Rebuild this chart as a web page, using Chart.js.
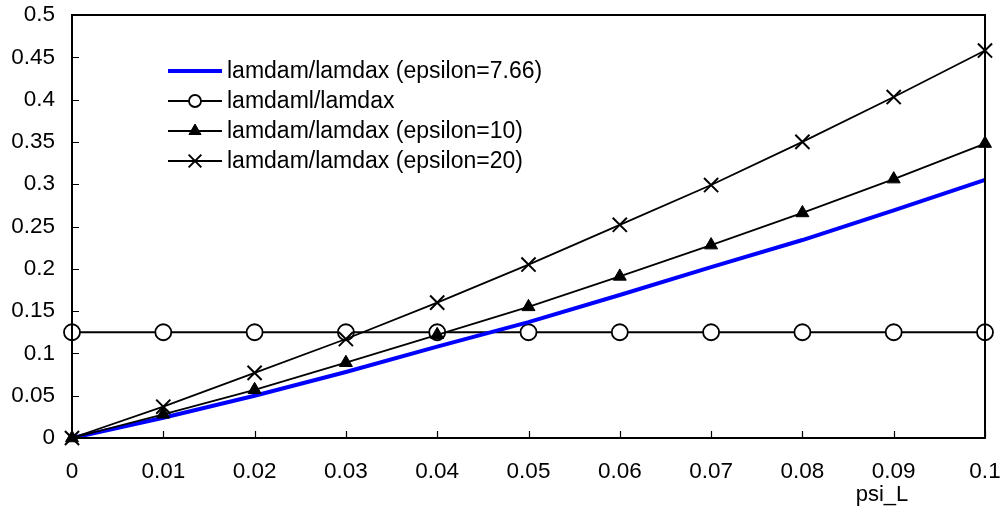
<!DOCTYPE html>
<html>
<head>
<meta charset="utf-8">
<script src="https://cdn.jsdelivr.net/npm/chart.js@4.4.1/dist/chart.umd.min.js"></script>
<style>
html,body{margin:0;padding:0;background:#fff;}
#wrap{width:1004px;height:518px;}
</style>
</head>
<body>
<div id="wrap"><canvas id="c" width="1004" height="518"></canvas></div>
<script>
const psi = [0, 0.01, 0.02, 0.03, 0.04, 0.05, 0.06, 0.07, 0.08, 0.09, 0.1];
const eps766 = [0, 0.024, 0.05, 0.078, 0.108, 0.137, 0.169, 0.202, 0.234, 0.269, 0.305];
const lamdaml = [0.125, 0.125, 0.125, 0.125, 0.125, 0.125, 0.125, 0.125, 0.125, 0.125, 0.125];
const eps10 = [0, 0.028, 0.057, 0.089, 0.122, 0.155, 0.191, 0.228, 0.266, 0.306, 0.348];
const eps20 = [0, 0.037, 0.077, 0.117, 0.160, 0.205, 0.252, 0.299, 0.350, 0.403, 0.458];
const xTickLabels = ["0", "0.01", "0.02", "0.03", "0.04", "0.05", "0.06", "0.07", "0.08", "0.09", "0.1"];
const yTickLabels = ["0", "0.05", "0.1", "0.15", "0.2", "0.25", "0.3", "0.35", "0.4", "0.45", "0.5"];
const seriesNames = ["lamdam/lamdax (epsilon=7.66)", "lamdaml/lamdax", "lamdam/lamdax (epsilon=10)", "lamdam/lamdax (epsilon=20)"];
const xTitle = "psi_L";

const FONT = "'Liberation Sans', Arial, sans-serif";
const pts = arr => psi.map((x, i) => ({x: x, y: arr[i]}));

const datasets = [
  {label: seriesNames[0], data: pts(eps766), borderColor: '#0000FF', borderWidth: 4, pointRadius: 0, order: 2, clip: false,
   legendPoint: null},
  {label: seriesNames[1], data: pts(lamdaml), borderColor: '#000', borderWidth: 1.8, pointStyle: 'circle', pointRadius: 8,
   pointBackgroundColor: '#fff', pointBorderColor: '#000', pointBorderWidth: 1.8, order: 3, clip: false,
   legendPoint: {pointStyle: 'circle', radius: 6, fill: '#fff'}},
  {label: seriesNames[2], data: pts(eps10), borderColor: '#000', borderWidth: 1.8, pointStyle: 'triangle', pointRadius: 7.5,
   pointBackgroundColor: '#000', pointBorderColor: '#000', pointBorderWidth: 1, order: 1, clip: false,
   legendPoint: {pointStyle: 'triangle', radius: 7, fill: '#000'}},
  {label: seriesNames[3], data: pts(eps20), borderColor: '#000', borderWidth: 1.8, pointStyle: 'crossRot', pointRadius: 10,
   pointBackgroundColor: '#000', pointBorderColor: '#000', pointBorderWidth: 2, order: 0, clip: false,
   legendPoint: {pointStyle: 'crossRot', radius: 9, fill: '#000'}}
];
datasets.forEach(d => { d.tension = 0; d.fill = false; d.pointHoverRadius = d.pointRadius; });

const framePlugin = {
  id: 'frame',
  afterDatasetsDraw(chart) {
    const ctx = chart.ctx, a = chart.chartArea;
    const xs = chart.scales.x, ys = chart.scales.y;
    ctx.save();
    ctx.strokeStyle = '#000';
    ctx.lineWidth = 1.2;
    ctx.beginPath();
    psi.forEach(v => { const px = Math.round(xs.getPixelForValue(v)) + 0.5; ctx.moveTo(px, a.bottom); ctx.lineTo(px, a.bottom - 7); });
    yTickLabels.forEach((t, i) => { const py = Math.round(ys.getPixelForValue(i * 0.05)) + 0.5; ctx.moveTo(a.left, py); ctx.lineTo(a.left + 7, py); });
    ctx.stroke();
    ctx.lineWidth = 2;
    ctx.strokeRect(a.left, a.top, a.right - a.left, a.bottom - a.top);
    ctx.restore();
  },
  afterDraw(chart) {
    const ctx = chart.ctx;
    ctx.save();
    ctx.fillStyle = '#000';
    ctx.font = '22px ' + FONT;
    ctx.textAlign = 'center';
    ctx.textBaseline = 'middle';
    ctx.fillText(xTitle, 882, 495);
    const rows = [71, 101, 131, 161];
    chart.data.datasets.forEach((d, i) => {
      const y = rows[i];
      ctx.strokeStyle = d.borderColor;
      ctx.lineWidth = d.borderWidth;
      ctx.beginPath();
      ctx.moveTo(168, y); ctx.lineTo(222, y);
      ctx.stroke();
      if (d.legendPoint) {
        ctx.fillStyle = d.legendPoint.fill;
        ctx.strokeStyle = '#000';
        ctx.lineWidth = d.pointBorderWidth;
        Chart.helpers.drawPoint(ctx, {pointStyle: d.legendPoint.pointStyle, radius: d.legendPoint.radius, rotation: 0, borderWidth: d.pointBorderWidth}, 195, y);
      }
      ctx.fillStyle = '#000';
      ctx.font = '23px ' + FONT;
      ctx.textAlign = 'left';
      ctx.textBaseline = 'middle';
      ctx.fillText(d.label, 227, y + 1);
    });
    ctx.restore();
  }
};

new Chart(document.getElementById('c'), {
  type: 'line',
  data: {datasets: datasets},
  options: {
    responsive: false,
    animation: false,
    events: [],
    layout: {padding: {top: 15, right: 19, left: 0, bottom: 0}},
    plugins: {legend: {display: false}, tooltip: {enabled: false}},
    scales: {
      x: {
        type: 'linear', min: 0, max: 0.1,
        afterBuildTicks(s) { s.ticks = psi.map(v => ({value: v})); },
        afterFit(s) { s.height = 80; s.paddingLeft = 0; s.paddingRight = 0; },
        grid: {display: false, drawTicks: false},
        border: {display: false},
        ticks: {color: '#000', font: {family: FONT, size: 22.5}, padding: 20, maxRotation: 0, autoSkip: false,
                callback: (v, i) => xTickLabels[i]}
      },
      y: {
        type: 'linear', min: 0, max: 0.5,
        afterBuildTicks(s) { s.ticks = yTickLabels.map((t, i) => ({value: i * 0.05})); },
        afterFit(s) { s.width = 72; s.paddingTop = 0; s.paddingBottom = 0; },
        grid: {display: false, drawTicks: false},
        border: {display: false},
        ticks: {color: '#000', font: {family: FONT, size: 22.5}, padding: 17, autoSkip: false,
                callback: (v, i) => yTickLabels[i]}
      }
    }
  },
  plugins: [framePlugin]
});
</script>
</body>
</html>
